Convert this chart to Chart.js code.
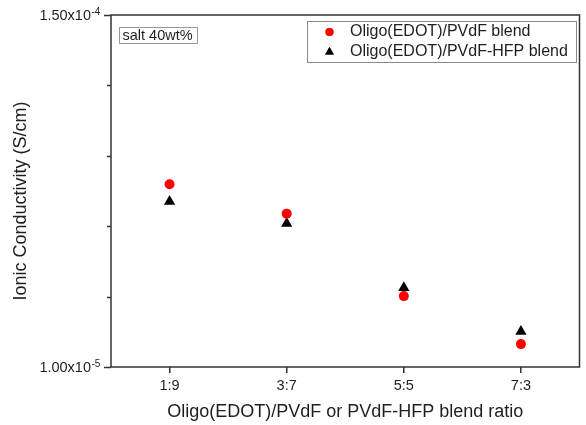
<!DOCTYPE html>
<html>
<head>
<meta charset="utf-8">
<script src="https://cdn.jsdelivr.net/npm/chart.js@4.4.0/dist/chart.umd.min.js"></script>
<style>
  html, body { margin: 0; padding: 0; background: #fff; }
</style>
</head>
<body>
<canvas id="chart" width="586" height="425"></canvas>
<script>
const ratioLabels = ['1:9', '3:7', '5:5', '7:3'];
const pvdfBlend = [8.27e-5, 7.10e-5, 3.82e-5, 1.91e-5];
const hfpBlend = [7.58e-5, 6.71e-5, 4.15e-5, 2.41e-5];

const yMin = 1.0e-5;
const yMax = 1.5e-4;
const yTickValues = [1.0e-5, 3.8e-5, 6.6e-5, 9.4e-5, 1.22e-4, 1.5e-4];
const yLabelValues = [1.0e-5, 1.5e-4];
const yLabelBases = ['1.00x10', '1.50x10'];
const yLabelExps = ['-5', '-4'];

const FONT = 'Arial, "Liberation Sans", sans-serif';
const AXIS = '#333';
const TEXT = '#1e1e1e';

const decorPlugin = {
    id: 'decor',
    afterDraw(chart) {
        const ctx = chart.ctx;
        const area = chart.chartArea;
        const y = chart.scales.y;
        ctx.save();

        // frame
        ctx.strokeStyle = AXIS;
        ctx.lineWidth = 1.5;
        ctx.strokeRect(area.left, area.top, area.right - area.left, area.bottom - area.top);

        // y tick marks
        yTickValues.forEach(v => {
            const py = Math.round(y.getPixelForValue(v)) + 0.5;
            const major = yLabelValues.includes(v);
            ctx.beginPath();
            ctx.moveTo(area.left - (major ? 7 : 4), py);
            ctx.lineTo(area.left, py);
            ctx.stroke();
        });

        // y tick labels with superscript exponent
        ctx.fillStyle = TEXT;
        ctx.textBaseline = 'middle';
        yLabelValues.forEach((v, i) => {
            const py = y.getPixelForValue(v) + 1;
            ctx.font = '14.5px ' + FONT;
            ctx.textAlign = 'right';
            ctx.fillText(yLabelBases[i], 91, py);
            ctx.font = '10px ' + FONT;
            ctx.textAlign = 'left';
            ctx.fillText(yLabelExps[i], 91.5, py - 3.5);
        });

        // y axis title
        ctx.save();
        ctx.translate(21, 201);
        ctx.rotate(-Math.PI / 2);
        ctx.font = '18px ' + FONT;
        ctx.textAlign = 'center';
        ctx.fillText('Ionic Conductivity (S/cm)', 0, 0);
        ctx.restore();

        // annotation box
        ctx.strokeStyle = '#999';
        ctx.lineWidth = 1;
        ctx.strokeRect(119.5, 27.5, 78, 16);
        ctx.font = '14.5px ' + FONT;
        ctx.textAlign = 'left';
        ctx.fillText('salt 40wt%', 122.5, 35.5);

        // legend
        ctx.strokeStyle = '#888';
        ctx.strokeRect(307.5, 21.5, 269, 41);
        ctx.font = '16px ' + FONT;
        chart.data.datasets.forEach((ds, i) => {
            const ly = 32 + i * 20;
            ctx.fillStyle = ds.backgroundColor;
            Chart.helpers.drawPoint(ctx, {
                pointStyle: ds.pointStyle,
                radius: ds.pointStyle === 'triangle' ? 5 : 4,
                rotation: 0,
                borderWidth: 0
            }, 329.5, ly);
            ctx.fill();
            ctx.fillStyle = TEXT;
            ctx.fillText(ds.label, 350, ly);
        });

        ctx.restore();
    }
};

new Chart(document.getElementById('chart'), {
    type: 'line',
    data: {
        labels: ratioLabels,
        datasets: [
            {
                label: 'Oligo(EDOT)/PVdF blend',
                data: pvdfBlend,
                showLine: false,
                pointStyle: 'circle',
                pointRadius: 5,
                pointBorderWidth: 0,
                backgroundColor: '#ff0000',
                borderColor: '#ff0000'
            },
            {
                label: 'Oligo(EDOT)/PVdF-HFP blend',
                data: hfpBlend,
                showLine: false,
                pointStyle: 'triangle',
                pointRadius: 6.5,
                pointBorderWidth: 0,
                backgroundColor: '#000000',
                borderColor: '#000000'
            }
        ]
    },
    options: {
        responsive: false,
        animation: false,
        layout: {
            padding: { left: 0, top: 15, right: 4, bottom: 0 }
        },
        plugins: {
            legend: { display: false },
            tooltip: { enabled: false }
        },
        scales: {
            x: {
                type: 'category',
                offset: true,
                afterFit: s => { s.height = 58; },
                grid: {
                    display: true,
                    drawOnChartArea: false,
                    offset: false,
                    tickLength: 6,
                    color: AXIS,
                    lineWidth: 1.5
                },
                border: { display: false },
                ticks: {
                    color: TEXT,
                    padding: 4,
                    maxRotation: 0,
                    font: { family: FONT, size: 14.5 }
                },
                title: {
                    display: true,
                    text: 'Oligo(EDOT)/PVdF or PVdF-HFP blend ratio',
                    color: TEXT,
                    font: { family: FONT, size: 18 },
                    padding: { top: 0, bottom: 2.5 }
                }
            },
            y: {
                min: yMin,
                max: yMax,
                afterFit: s => { s.width = 111; },
                afterBuildTicks: s => { s.ticks = yTickValues.map(v => ({ value: v })); },
                grid: { display: false },
                border: { display: false },
                ticks: { display: false }
            }
        }
    },
    plugins: [decorPlugin]
});
</script>
</body>
</html>
